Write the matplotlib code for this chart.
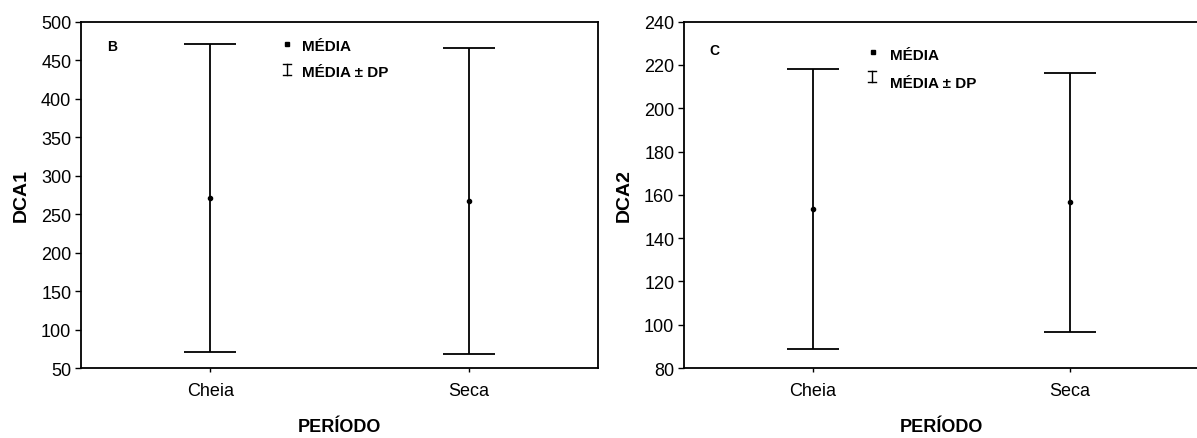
import matplotlib
matplotlib.use("Agg")
import matplotlib.pyplot as plt


PERIODS = ["Cheia", "Seca"]

DCA1_MEAN = [271, 267]
DCA1_SD = [200, 199]

DCA2_MEAN = [153.5, 156.5]
DCA2_SD = [64.5, 60.0]

plt.rcParams["font.family"] = ["Liberation Sans", "DejaVu Sans"]

fig = plt.figure(figsize=(11.97, 4.39), dpi=100)

# axes positions in pixels (left, right, top, bottom) of a 1197x439 canvas
W, H = 1197, 439


def make_axes(x0, x1, y_top, y_bot):
    return fig.add_axes([x0 / W, 1 - y_bot / H, (x1 - x0) / W, (y_bot - y_top) / H])


ax1 = make_axes(81, 598, 22.7, 369)
ax2 = make_axes(684, 1198, 22.7, 369)

panels = [
    (ax1, DCA1_MEAN, DCA1_SD, "DCA1", "B", (50, 500), range(50, 501, 50),
     (0.05, 0.93), (0.398, 0.936), (0.398, 0.863), (0.427, 0.930), (0.427, 0.856)),
    (ax2, DCA2_MEAN, DCA2_SD, "DCA2", "C", (80, 240), range(80, 241, 20),
     (0.05, 0.918), (0.367, 0.912), (0.366, 0.842), (0.40, 0.903), (0.40, 0.823)),
]

for (ax, mean, sd, ylabel, letter, ylim, yticks,
     letter_pos, dot_pos, bar_pos, txt1_pos, txt2_pos) in panels:

    x = list(range(len(PERIODS)))

    ax.errorbar(
        x,
        mean,
        yerr=sd,
        fmt="o",
        color="black",
        markersize=3,
        elinewidth=1.3,
        capsize=18.5,
        capthick=1.3,
    )

    ax.set_xlim(-0.5, 1.5)
    ax.set_ylim(*ylim)
    ax.set_yticks(list(yticks))
    ax.set_xticks(x)
    ax.set_xticklabels(PERIODS)

    ax.tick_params(axis="both", labelsize=13, width=1, direction="out")
    ax.tick_params(axis="x", length=3, pad=7)
    ax.tick_params(axis="y", length=4, pad=3)

    for spine in ax.spines.values():
        spine.set_linewidth(1.3)

    ax.set_ylabel(ylabel, fontsize=14, fontweight="bold", labelpad=8)
    ax.set_xlabel("PERÍODO", fontsize=13, fontweight="bold", labelpad=14)

    ax.text(*letter_pos, letter, transform=ax.transAxes, fontsize=10,
            fontweight="bold", va="center", ha="left")

    # legend drawn by hand
    ax.plot([dot_pos[0]], [dot_pos[1]], "s", color="black", markersize=3.5,
            transform=ax.transAxes, clip_on=False)
    bx, by = bar_pos
    hh, hw = 0.016, 0.008
    ax.plot([bx, bx], [by - hh, by + hh], color="black", lw=1, transform=ax.transAxes)
    ax.plot([bx - hw, bx + hw], [by + hh, by + hh], color="black", lw=1, transform=ax.transAxes)
    ax.plot([bx - hw, bx + hw], [by - hh, by - hh], color="black", lw=1, transform=ax.transAxes)

    ax.text(*txt1_pos, "MÉDIA", transform=ax.transAxes, fontsize=11,
            fontweight="bold", va="center", ha="left")
    ax.text(*txt2_pos, "MÉDIA ± DP", transform=ax.transAxes, fontsize=11,
            fontweight="bold", va="center", ha="left")

fig.savefig("out.png", dpi=100)
